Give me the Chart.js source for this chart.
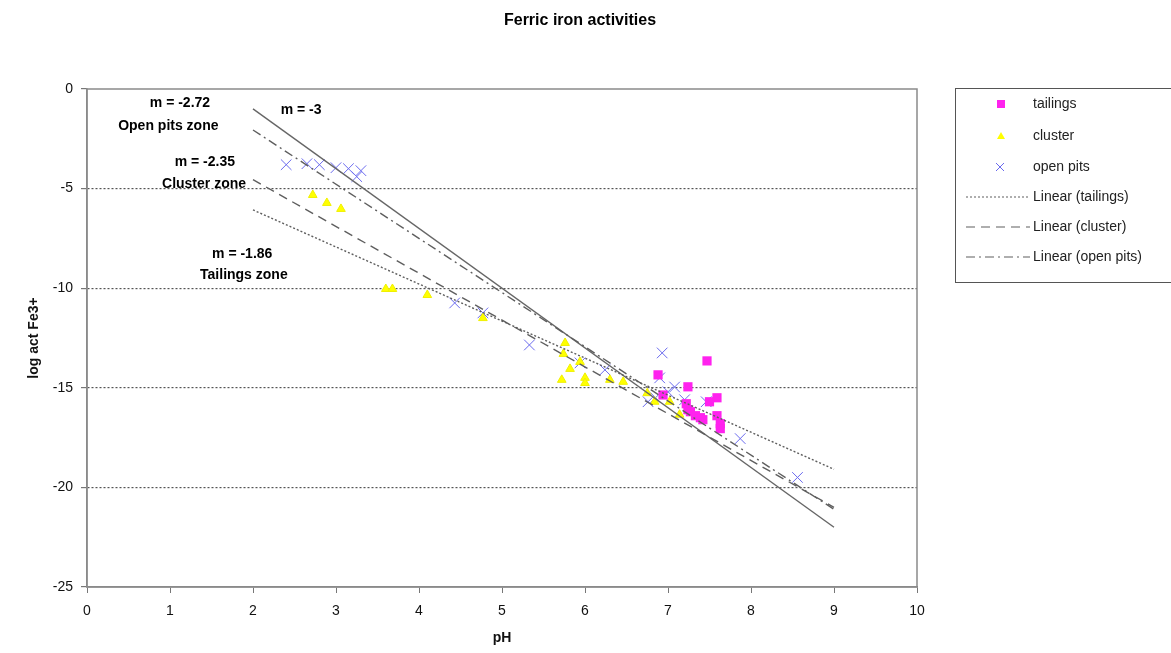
<!DOCTYPE html>
<html>
<head>
<meta charset="utf-8">
<script src="https://cdn.jsdelivr.net/npm/chart.js@4/dist/chart.umd.min.js"></script>
<style>
html,body{margin:0;padding:0;background:#fff;}
#wrap{width:1171px;height:653px;position:relative;}
</style>
</head>
<body>
<div id="wrap"><canvas id="c" width="1171" height="653"></canvas></div>
<script>
// ---- data ----
const tailingsPH  = [7.47, 6.88, 7.24, 6.94, 7.59, 7.50, 7.22, 7.24, 7.33, 7.39, 7.42, 7.59, 7.63, 7.63, 7.27];
const tailingsFe  = [-13.65, -14.35, -14.95, -15.36, -15.50, -15.70, -15.80, -16.10, -16.40, -16.50, -16.60, -16.40, -16.80, -17.05, -16.2];

const clusterPH   = [2.72, 2.89, 3.06, 3.60, 3.68, 4.10, 4.77, 5.76, 5.74, 5.82, 5.72, 6.00, 6.00, 6.30, 6.46, 6.75, 6.84, 7.02, 7.14, 5.94];
const clusterFe   = [-5.32, -5.72, -6.02, -10.04, -10.04, -10.34, -11.50, -12.75, -13.30, -14.05, -14.60, -14.50, -14.76, -14.60, -14.70, -15.27, -15.70, -15.70, -16.35, -13.70];

const pitsPH      = [2.40, 2.65, 2.80, 3.00, 3.15, 3.30, 3.25, 4.43, 4.77, 5.33, 5.94, 6.24, 6.93, 6.90, 7.08, 6.76, 6.85, 7.00, 7.20, 7.46, 7.87, 8.56];
const pitsFe      = [-3.80, -3.75, -3.80, -3.95, -4.00, -4.10, -4.40, -10.74, -11.24, -12.85, -13.75, -14.10, -13.25, -14.50, -14.96, -15.70, -15.50, -15.20, -15.60, -15.70, -17.55, -19.50];

// trend lines: [pH start, pH end], [value start, value end]
const trendPH        = [2, 9];
const trendTailings  = [-6.07, -19.09];
const trendCluster   = [-4.55, -21.0];
const trendPits      = [-2.06, -21.1];
const trendSlope3    = [-1.0, -22.0];

const xTicks = [0,1,2,3,4,5,6,7,8,9,10];
const yTicks = [0,-5,-10,-15,-20,-25];

const seriesNames = ['tailings','cluster','open pits','Linear (tailings)','Linear (cluster)','Linear (open pits)'];

const notes = [
  {t:'m = -2.72',      x:1.12, y:-0.70},
  {t:'Open pits zone', x:0.98, y:-1.86},
  {t:'m = -3',         x:2.58, y:-1.05},
  {t:'m = -2.35',      x:1.42, y:-3.66},
  {t:'Cluster zone',   x:1.41, y:-4.77},
  {t:'m = -1.86',      x:1.87, y:-8.28},
  {t:'Tailings zone',  x:1.89, y:-9.34}
];

const pts = (xs, ys) => xs.map((x,i)=>({x:x, y:ys[i]}));
const FONT = "'Liberation Sans', Arial, sans-serif";
const LINECOL = '#5e5e5e';

const datasets = [
  {label:seriesNames[0], type:'scatter', data:pts(tailingsPH,tailingsFe), pointStyle:'rect', pointRadius:6.5,
   backgroundColor:'#ff22ee', borderColor:'#ff22ee', borderWidth:0, order:1},
  {label:seriesNames[1], type:'scatter', data:pts(clusterPH,clusterFe), pointStyle:'triangle', pointRadius:5,
   backgroundColor:'#ffff00', borderColor:'#f0f000', borderWidth:1, order:2},
  {label:seriesNames[2], type:'scatter', data:pts(pitsPH,pitsFe), pointStyle:'crossRot', pointRadius:7.5,
   backgroundColor:'#6a6aee', borderColor:'#6a6aee', borderWidth:1, order:3},
  {label:seriesNames[3], type:'line', data:pts(trendPH,trendTailings), borderColor:LINECOL, borderWidth:1.4,
   borderDash:[2,2], pointRadius:0, fill:false, order:0},
  {label:seriesNames[4], type:'line', data:pts(trendPH,trendCluster), borderColor:LINECOL, borderWidth:1.4,
   borderDash:[9,6], pointRadius:0, fill:false, order:0},
  {label:seriesNames[5], type:'line', data:pts(trendPH,trendPits), borderColor:LINECOL, borderWidth:1.4,
   borderDash:[9,4,2,4], pointRadius:0, fill:false, order:0},
  {label:'slope -3', type:'line', data:pts(trendPH,trendSlope3), borderColor:'#666', borderWidth:1.4,
   pointRadius:0, fill:false, order:0}
];

const extras = {
  id:'extras',
  afterDraw(chart){
    const ctx = chart.ctx, a = chart.chartArea, xs = chart.scales.x, ys = chart.scales.y;
    ctx.save();
    // frame
    ctx.strokeStyle = '#8a8a8a'; ctx.lineWidth = 1.5;
    ctx.strokeRect(a.left, a.top, a.right-a.left, a.bottom-a.top);
    // title
    ctx.fillStyle = '#000';
    ctx.font = 'bold 16px ' + FONT;
    ctx.textAlign = 'center'; ctx.textBaseline = 'middle';
    ctx.fillText('Ferric iron activities', 580, 21);
    // notes
    ctx.font = 'bold 14px ' + FONT;
    notes.forEach(n => ctx.fillText(n.t, xs.getPixelForValue(n.x), ys.getPixelForValue(n.y)));
    // legend
    const lx = 955, ly = 88, lw = 230, lh = 194;
    ctx.strokeStyle = '#555'; ctx.lineWidth = 1;
    ctx.strokeRect(lx+0.5, ly+0.5, lw, lh);
    ctx.font = '14px ' + FONT; ctx.textAlign = 'left';
    const rowY = [104, 136, 167, 197, 227, 257];
    seriesNames.forEach((name,i) => {
      const ds = chart.data.datasets[i];
      const y = rowY[i];
      if (i < 3) {
        ctx.fillStyle = ds.backgroundColor; ctx.strokeStyle = ds.borderColor; ctx.lineWidth = 1;
        ctx.beginPath();
        if (i===0) { ctx.fillRect(997, y-4, 8, 8); }
        else if (i===1) { ctx.moveTo(1001,y-4); ctx.lineTo(1005,y+3); ctx.lineTo(997,y+3); ctx.closePath(); ctx.fill(); }
        else { ctx.moveTo(996,y-4); ctx.lineTo(1004,y+4); ctx.moveTo(1004,y-4); ctx.lineTo(996,y+4); ctx.stroke(); }
      } else {
        ctx.strokeStyle = ds.borderColor; ctx.lineWidth = 1.2;
        ctx.setLineDash(ds.borderDash);
        ctx.beginPath(); ctx.moveTo(966, y); ctx.lineTo(1030, y); ctx.stroke();
        ctx.setLineDash([]);
      }
      ctx.fillStyle = '#222';
      ctx.fillText(name, 1033, y);
    });
    ctx.restore();
  }
};

new Chart(document.getElementById('c'), {
  type:'scatter',
  data:{datasets:datasets},
  options:{
    responsive:false, animation:false,
    layout:{padding:{top:89, right:254, left:22, bottom:2}},
    plugins:{legend:{display:false}, title:{display:false}, tooltip:{enabled:false}},
    scales:{
      x:{type:'linear', min:0, max:10,
         afterBuildTicks(s){ s.ticks = xTicks.map(v=>({value:v})); },
         afterFit(s){ s.height = 653-587-2; },
         grid:{drawOnChartArea:false, drawTicks:true, tickLength:6, tickColor:'#777'},
         border:{display:true, color:'#8a8a8a', width:1.5},
         ticks:{color:'#111', font:{family:FONT, size:14}, padding:10, maxRotation:0},
         title:{display:true, text:'pH', color:'#111', font:{family:FONT, size:14, weight:'bold'}, padding:{top:14}}
      },
      y:{type:'linear', min:-25, max:0,
         afterBuildTicks(s){ s.ticks = yTicks.map(v=>({value:v})); },
         afterFit(s){ s.width = 87-22; },
         grid:{drawTicks:true, tickLength:6, tickColor:'#777',
               color:(c)=> (c.tick && (c.tick.value===0 || c.tick.value===-25)) ? 'rgba(0,0,0,0)' : '#555',
               lineWidth:1.2},
         border:{display:true, color:'#8a8a8a', width:1.5, dash:[2,2]},
         ticks:{color:'#111', font:{family:FONT, size:14}, padding:8},
         title:{display:true, text:'log act Fe3+', color:'#111', font:{family:FONT, size:14, weight:'bold'}, padding:{bottom:0}}
      }
    }
  },
  plugins:[extras]
});
</script>
</body>
</html>
